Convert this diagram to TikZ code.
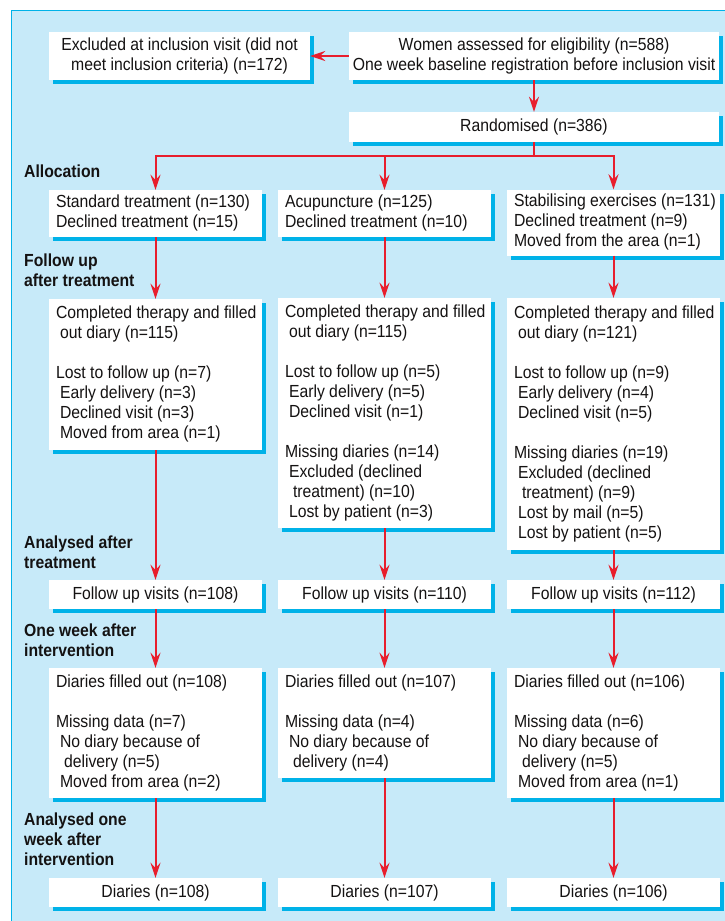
\documentclass[tikz,border=0pt]{standalone}
\usepackage{fontspec}
\setmainfont{Liberation Sans}[FakeStretch=0.9]
\usetikzlibrary{arrows.meta,shadows}
\definecolor{bgblue}{RGB}{199,234,249}
\definecolor{shcyan}{RGB}{0,178,232}
\definecolor{arrred}{RGB}{232,30,45}
\definecolor{txt}{RGB}{20,18,18}
\tikzset{
  box/.style={fill=white, inner xsep=7pt, inner ysep=3pt, text=txt,
    font=\fontsize{17.5}{20}\selectfont,
    drop shadow={shadow xshift=4pt, shadow yshift=-4pt, opacity=1, fill=shcyan}},
  colbox/.style={box, minimum width=213pt},
  lab/.style={anchor=west, inner sep=0pt, align=left, text=txt,
    font=\fontsize{17.5}{20}\selectfont\bfseries},
  line/.style={draw=arrred, line width=2pt},
  arr/.style={line, -{Stealth[length=15pt,width=10pt,inset=5pt]}}
}
\newcommand{\ind}{\hspace*{4pt}}
\newcommand{\indd}{\hspace*{8pt}}
\newcommand{\lbox}[1]{\makebox[199pt][l]{\begin{tabular}{@{}l@{}}#1\end{tabular}}}
\newcommand{\cblock}[1]{\begin{tabular}{@{}c@{}}#1\end{tabular}}
\begin{document}
\begin{tikzpicture}[x=1pt,y=-1pt]
\useasboundingbox (0,0) rectangle (725,921);
\fill[white] (0,0) rectangle (725,921);
\draw[fill=bgblue, draw=shcyan, line width=1pt] (11,10) rectangle (760,960);

% top
\node[box, minimum width=261pt, minimum height=48pt] (excl) at (179.5,56)
  {\cblock{Excluded at inclusion visit (did not\\meet inclusion criteria) (n=172)}};
\node[box, minimum width=370pt, minimum height=48pt, inner xsep=2pt] (women) at (534,56)
  {\cblock{Women assessed for eligibility (n=588)\\One week baseline registration before inclusion visit}};
\node[box, minimum width=370pt, minimum height=30pt] (rand) at (534,127)
  {Randomised (n=386)};

% allocation
\node[colbox, minimum height=47pt] (st) at (155.5,213.5)
  {\lbox{Standard treatment (n=130)\\Declined treatment (n=15)}};
\node[colbox, minimum height=47pt] (ac) at (384.5,213.5)
  {\lbox{Acupuncture (n=125)\\Declined treatment (n=10)}};
\node[colbox, minimum height=65pt] (se) at (613.5,222.5)
  {\lbox{Stabilising exercises (n=131)\\Declined treatment (n=9)\\Moved from the area (n=1)}};

% follow up after treatment
\node[colbox, minimum height=151pt] (c1) at (155.5,374.5)
  {\lbox{Completed therapy and filled\\\ind out diary (n=115)\\[20pt]Lost to follow up (n=7)\\\ind Early delivery (n=3)\\\ind Declined visit (n=3)\\\ind Moved from area (n=1)}};
\node[colbox, minimum height=230pt] (c2) at (384.5,413)
  {\lbox{Completed therapy and filled\\\ind out diary (n=115)\\[20pt]Lost to follow up (n=5)\\\ind Early delivery (n=5)\\\ind Declined visit (n=1)\\[20pt]Missing diaries (n=14)\\\ind Excluded (declined\\\indd treatment) (n=10)\\\ind Lost by patient (n=3)}};
\node[colbox, minimum height=252pt] (c3) at (613.5,424)
  {\lbox{Completed therapy and filled\\\ind out diary (n=121)\\[20pt]Lost to follow up (n=9)\\\ind Early delivery (n=4)\\\ind Declined visit (n=5)\\[20pt]Missing diaries (n=19)\\\ind Excluded (declined\\\indd treatment) (n=9)\\\ind Lost by mail (n=5)\\\ind Lost by patient (n=5)}};

% analysed after treatment
\node[box, minimum width=213pt, minimum height=29pt] (f1) at (155.5,594.5) {Follow up visits (n=108)};
\node[box, minimum width=213pt, minimum height=29pt] (f2) at (384.5,594.5) {Follow up visits (n=110)};
\node[box, minimum width=213pt, minimum height=29pt] (f3) at (613.5,594.5) {Follow up visits (n=112)};

% one week after
\node[colbox, minimum height=130pt] (d1) at (155.5,733)
  {\lbox{Diaries filled out (n=108)\\[20pt]Missing data (n=7)\\\ind No diary because of\\\indd delivery (n=5)\\\ind Moved from area (n=2)}};
\node[colbox, minimum height=110pt] (d2) at (384.5,723)
  {\lbox{Diaries filled out (n=107)\\[20pt]Missing data (n=4)\\\ind No diary because of\\\indd delivery (n=4)}};
\node[colbox, minimum height=130pt] (d3) at (613.5,733)
  {\lbox{Diaries filled out (n=106)\\[20pt]Missing data (n=6)\\\ind No diary because of\\\indd delivery (n=5)\\\ind Moved from area (n=1)}};

% analysed one week after
\node[box, minimum width=213pt, minimum height=29pt] (r1) at (155.5,892.5) {Diaries (n=108)};
\node[box, minimum width=213pt, minimum height=29pt] (r2) at (384.5,892.5) {Diaries (n=107)};
\node[box, minimum width=213pt, minimum height=29pt] (r3) at (613.5,892.5) {Diaries (n=106)};

% labels
\node[lab] (l1) at (24,171) {Allocation};
\node[lab] (l2) at (24,270) {Follow up\\after treatment};
\node[lab] (l3) at (24,552.5) {Analysed after\\treatment};
\node[lab] (l4) at (24,640.5) {One week after\\intervention};
\node[lab] (l5) at (24,839) {Analysed one\\week after\\intervention};

% connectors
\coordinate (br) at (534,155.5);
\draw[arr] (women.west) -- (excl.east);
\draw[arr] (women.south) -- (rand.north);
\draw[line] (rand.south) -- (br);
\draw[line, line cap=rect] (st.north |- br) -- (se.north |- br);
\draw[arr] (st.north |- br) -- (st.north);
\draw[arr] (ac.north |- br) -- (ac.north);
\draw[arr] (se.north |- br) -- (se.north);
\draw[arr] (st.south) -- (c1.north);
\draw[arr] (ac.south) -- (c2.north);
\draw[arr] (se.south) -- (c3.north);
\draw[arr] (c1.south) -- (f1.north);
\draw[arr] (c2.south) -- (f2.north);
\draw[arr] (c3.south) -- (f3.north);
\draw[arr] (f1.south) -- (d1.north);
\draw[arr] (f2.south) -- (d2.north);
\draw[arr] (f3.south) -- (d3.north);
\draw[arr] (d1.south) -- (r1.north);
\draw[arr] (d2.south) -- (r2.north);
\draw[arr] (d3.south) -- (r3.north);
\end{tikzpicture}
\end{document}
